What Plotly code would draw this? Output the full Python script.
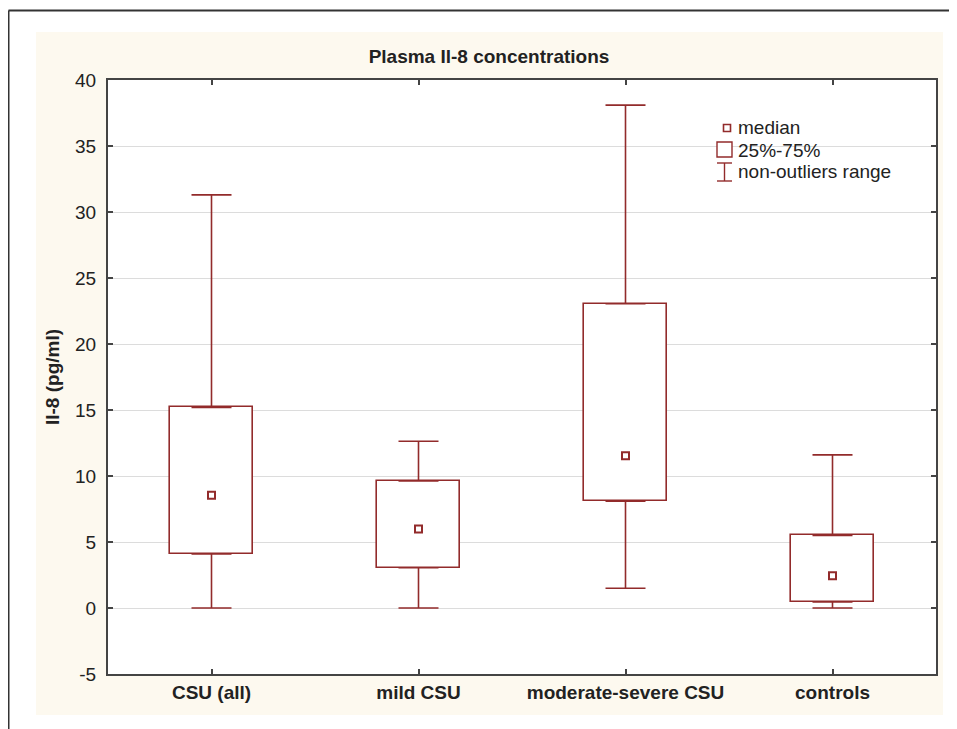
import plotly.graph_objects as go

categories = ["CSU (all)", "mild CSU", "moderate-severe CSU", "controls"]
q1 = [4.1, 3.05, 8.1, 0.45]
median = [8.55, 5.98, 11.54, 2.45]
q3 = [15.2, 9.62, 23.05, 5.5]
lower = [0.0, 0.0, 1.5, 0.0]
upper = [31.3, 12.63, 38.1, 11.6]
y_tickvals = [-5, 0, 5, 10, 15, 20, 25, 30, 35, 40]
y_ticktext = ["-5", "0", "5", "10", "15", "20", "25", "30", "35", "40"]
legend_labels = ["median", "25%-75%", "non-outliers range"]

RED = "#922b2b"
FONT = "Liberation Sans, Arial, sans-serif"
OFF = 8  # page body margin
W, H = 957 - OFF, 729 - OFF
L, R, T, B = 108 - OFF, 936 - OFF, 80 - OFF, 674 - OFF


def px(x):
    # screen pixel -> paper coordinate
    return (x - OFF - L) / (R - L)


def py(y):
    return (B - (y - OFF)) / (B - T)


fig = go.Figure()

fig.add_trace(go.Bar(
    x=categories,
    y=[b - a for a, b in zip(q1, q3)],
    base=q1,
    width=0.4,
    marker=dict(color="white", line=dict(color=RED, width=1.6)),
    showlegend=False,
    hoverinfo="skip",
))

# upper whiskers
fig.add_trace(go.Scatter(
    x=categories, y=q3, mode="markers",
    marker=dict(size=1, color="rgba(0,0,0,0)"),
    error_y=dict(type="data", symmetric=False,
                 array=[u - q for u, q in zip(upper, q3)],
                 arrayminus=[0] * len(q3),
                 width=20, thickness=1.6, color=RED),
    showlegend=False, hoverinfo="skip",
))
# lower whiskers
fig.add_trace(go.Scatter(
    x=categories, y=q1, mode="markers",
    marker=dict(size=1, color="rgba(0,0,0,0)"),
    error_y=dict(type="data", symmetric=False,
                 array=[0] * len(q1),
                 arrayminus=[q - l for q, l in zip(q1, lower)],
                 width=20, thickness=1.6, color=RED),
    showlegend=False, hoverinfo="skip",
))
# medians
fig.add_trace(go.Scatter(
    x=categories, y=median, mode="markers",
    marker=dict(symbol="square-open", size=7, color=RED, line=dict(width=2, color=RED)),
    showlegend=False, hoverinfo="skip",
))

shapes = [
    # cream panel
    dict(type="rect", xref="paper", yref="paper", x0=px(36), x1=px(943), y0=py(715), y1=py(32),
         fillcolor="#fdf9ef", line=dict(width=0), layer="below"),
    # white plot area
    dict(type="rect", xref="paper", yref="paper", x0=0, x1=1, y0=0, y1=1,
         fillcolor="white", line=dict(width=0), layer="below"),
    # outer frame
    dict(type="line", xref="paper", yref="paper", x0=px(8.5), x1=px(8.5), y0=py(740), y1=py(10.5),
         line=dict(color="#333", width=2)),
    dict(type="line", xref="paper", yref="paper", x0=px(8.5), x1=px(960), y0=py(10.5), y1=py(10.5),
         line=dict(color="#333", width=2)),
    # legend icons
    dict(type="rect", xref="paper", yref="paper", x0=px(723.5), x1=px(730.5), y0=py(131.5), y1=py(124.5),
         line=dict(color=RED, width=1.6), fillcolor="white"),
    dict(type="rect", xref="paper", yref="paper", x0=px(717), x1=px(732), y0=py(157), y1=py(142),
         line=dict(color=RED, width=1.4), fillcolor="white"),
    dict(type="line", xref="paper", yref="paper", x0=px(724.5), x1=px(724.5), y0=py(181), y1=py(163),
         line=dict(color=RED, width=1.4)),
    dict(type="line", xref="paper", yref="paper", x0=px(717), x1=px(732), y0=py(163), y1=py(163),
         line=dict(color=RED, width=1.4)),
    dict(type="line", xref="paper", yref="paper", x0=px(717), x1=px(732), y0=py(181), y1=py(181),
         line=dict(color=RED, width=1.4)),
]

annotations = []
for label, yc in zip(legend_labels, [128, 150, 171]):
    annotations.append(dict(
        text=label, xref="paper", yref="paper", x=px(736), y=py(yc),
        xanchor="left", yanchor="middle", showarrow=False,
        font=dict(family=FONT, size=19, color="#222"),
    ))

fig.update_layout(
    width=W, height=H,
    margin=dict(l=L, r=W - R, t=T, b=H - B, pad=0),
    paper_bgcolor="white",
    plot_bgcolor="white",
    title=dict(text="<b>Plasma Il-8 concentrations</b>", xref="paper", x=px(489), xanchor="center",
               yref="container", y=1 - (56 - OFF) / H, yanchor="middle",
               font=dict(family=FONT, size=19, color="#222")),
    shapes=shapes,
    annotations=annotations,
    bargap=0,
)

fig.update_xaxes(
    range=[-0.5, 3.5],
    showline=True, linecolor="#444", linewidth=2, mirror="ticks",
    ticks="inside", ticklen=5, tickcolor="#444", tickwidth=1.5,
    tickfont=dict(family=FONT, size=19, color="#222", weight="bold"),
    ticklabelstandoff=0,
    showgrid=False, zeroline=False, fixedrange=True,
)
fig.update_yaxes(
    range=[-5, 40], tickmode="array", tickvals=y_tickvals, ticktext=y_ticktext,
    showline=True, linecolor="#444", linewidth=2, mirror="ticks",
    ticks="inside", ticklen=5, tickcolor="#444", tickwidth=1.5,
    tickfont=dict(family=FONT, size=19, color="#222"),
    ticklabelstandoff=6,
    showgrid=True, gridcolor="#dcdcdc", gridwidth=1.2, zeroline=False,
    title=dict(text="<b>Il-8 (pg/ml)</b>", standoff=10,
               font=dict(family=FONT, size=19, color="#222")),
)

fig.write_html("out.html")
